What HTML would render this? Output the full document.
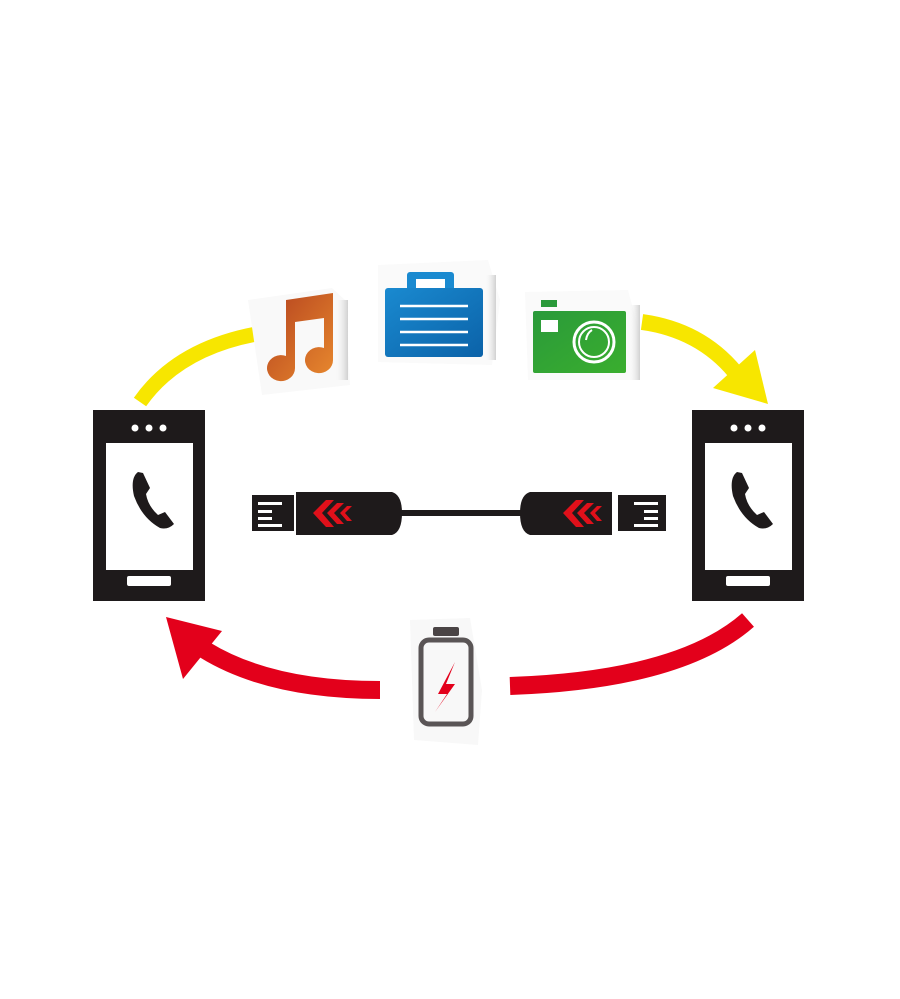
<!DOCTYPE html>
<html><head><meta charset="utf-8"><style>html,body{margin:0;padding:0;background:#fff}svg{display:block}</style></head>
<body>
<svg width="900" height="999" viewBox="0 0 900 999" xmlns="http://www.w3.org/2000/svg">
<defs>
<linearGradient id="og" x1="0" y1="0" x2="1" y2="1"><stop offset="0" stop-color="#b5431f"/><stop offset="1" stop-color="#e8892e"/></linearGradient>
<linearGradient id="bg" x1="0" y1="0" x2="1" y2="1"><stop offset="0" stop-color="#1a8ad0"/><stop offset="1" stop-color="#0b62a8"/></linearGradient>
<linearGradient id="gg" x1="0" y1="0" x2="1" y2="1"><stop offset="0" stop-color="#2a9a3a"/><stop offset="1" stop-color="#3aae2e"/></linearGradient>
<linearGradient id="sh" x1="0" y1="0" x2="1" y2="0"><stop offset="0" stop-color="#fff" stop-opacity="0"/><stop offset="1" stop-color="#d0d0d0"/></linearGradient>
</defs>
<!-- yellow arcs -->
<path d="M140 402 Q180 345 268 332" fill="none" stroke="#f7e600" stroke-width="15"/>
<path d="M642 322 Q700 330 735 372" fill="none" stroke="#f7e600" stroke-width="16"/>
<polygon points="755,350 713,388 768,404" fill="#f7e600"/>
<!-- sticker backgrounds -->
<path d="M248 300 L332 288 L345 300 L350 385 L262 395 Z" fill="#f9f9f9"/>
<path d="M378 265 L488 260 L500 300 L492 365 L378 362 Z" fill="#fafafa"/>
<path d="M525 292 L628 290 L640 335 L636 380 L528 380 Z" fill="#fafafa"/>
<rect x="334" y="300" width="14" height="80" fill="url(#sh)"/>
<rect x="628" y="305" width="12" height="75" fill="url(#sh)"/>
<rect x="484" y="275" width="12" height="85" fill="url(#sh)"/>
<!-- music note -->
<path d="M286 300 L333 293 L333 360 A14 13 0 1 1 324 348 L324 318 L295 322 L295 368 A14 13 0 1 1 286 356 Z" fill="url(#og)"/>
<!-- briefcase -->
<rect x="407" y="272" width="47" height="20" rx="3" fill="#1a8ad0"/>
<rect x="416" y="279" width="29" height="12" fill="#fff"/>
<rect x="385" y="288" width="98" height="69" rx="3" fill="url(#bg)"/>
<g stroke="#fff" stroke-width="2.5"><line x1="400" y1="306" x2="468" y2="306"/><line x1="400" y1="319" x2="468" y2="319"/><line x1="400" y1="332" x2="468" y2="332"/><line x1="400" y1="345" x2="468" y2="345"/></g>
<!-- camera -->
<rect x="541" y="300" width="16" height="7" fill="#2a9a3a"/>
<rect x="533" y="311" width="93" height="62" rx="2" fill="url(#gg)"/>
<rect x="541" y="320" width="17" height="12" fill="#fff"/>
<circle cx="594" cy="342" r="20" fill="none" stroke="#fff" stroke-width="3"/>
<circle cx="594" cy="342" r="15" fill="none" stroke="#fff" stroke-width="2"/>
<path d="M586 340 Q587 333 592 330" fill="none" stroke="#fff" stroke-width="2"/>
<!-- phones -->
<g id="ph">
<rect x="93" y="410" width="112" height="191" fill="#1e1a1b"/>
<rect x="106" y="443" width="87" height="127" fill="#fff"/>
<circle cx="135" cy="428" r="3.5" fill="#fff"/><circle cx="149" cy="428" r="3.5" fill="#fff"/><circle cx="163" cy="428" r="3.5" fill="#fff"/>
<rect x="127" y="576" width="44" height="10" rx="2" fill="#fff"/>
<path d="M138 472 Q130 478 134 496 Q142 518 160 528 Q168 530 174 524 L165 512 L158 515 Q148 506 146 494 L150 488 L143 473 Z" fill="#1e1a1b"/>
</g>
<use href="#ph" transform="translate(599,0)"/>
<!-- cable -->
<rect x="252" y="495" width="42" height="36" fill="#1e1a1b"/>
<g fill="#fff"><rect x="258" y="502" width="24" height="3"/><rect x="258" y="510" width="14" height="3"/><rect x="258" y="517" width="14" height="3"/><rect x="258" y="524" width="24" height="3"/></g>
<path d="M296 492 L392 492 Q402 495 402 513 Q402 532 392 535 L296 535 Z" fill="#1e1a1b"/>
<rect x="400" y="510" width="124" height="6" fill="#1e1a1b"/>
<path d="M612 492 L530 492 Q520 495 520 513 Q520 532 530 535 L612 535 Z" fill="#1e1a1b"/>
<rect x="618" y="495" width="48" height="36" fill="#1e1a1b"/>
<g fill="#fff"><rect x="634" y="502" width="24" height="3"/><rect x="644" y="510" width="14" height="3"/><rect x="644" y="517" width="14" height="3"/><rect x="634" y="524" width="24" height="3"/></g>
<g id="chev" fill="#e0101a">
<path d="M326 500 L334 500 L322 513 L334 527 L326 527 L313 513 Z"/>
<path d="M337 503 L344 503 L334 513 L344 524 L337 524 L327 513 Z"/>
<path d="M347 506 L352 506 L345 513 L352 521 L347 521 L340 513 Z"/>
</g>
<use href="#chev" transform="translate(250,0)"/>
<!-- red arrows -->
<path d="M748 620 Q680 680 510 686" fill="none" stroke="#e3001b" stroke-width="18"/>
<path d="M380 690 Q270 690 205 650" fill="none" stroke="#e3001b" stroke-width="18"/>
<polygon points="166,617 222,631 183,679" fill="#e3001b"/>
<!-- battery -->
<path d="M410 620 L470 618 L482 690 L478 745 L414 740 Z" fill="#f8f8f8"/>
<rect x="433" y="627" width="26" height="9" rx="2" fill="#4a4445"/>
<rect x="421" y="640" width="50" height="84" rx="8" fill="none" stroke="#5a5556" stroke-width="5"/>
<polygon points="455,662 438,694 447,694 435,712 455,684 446,684" fill="#e3001b"/>
</svg>
</body></html>
